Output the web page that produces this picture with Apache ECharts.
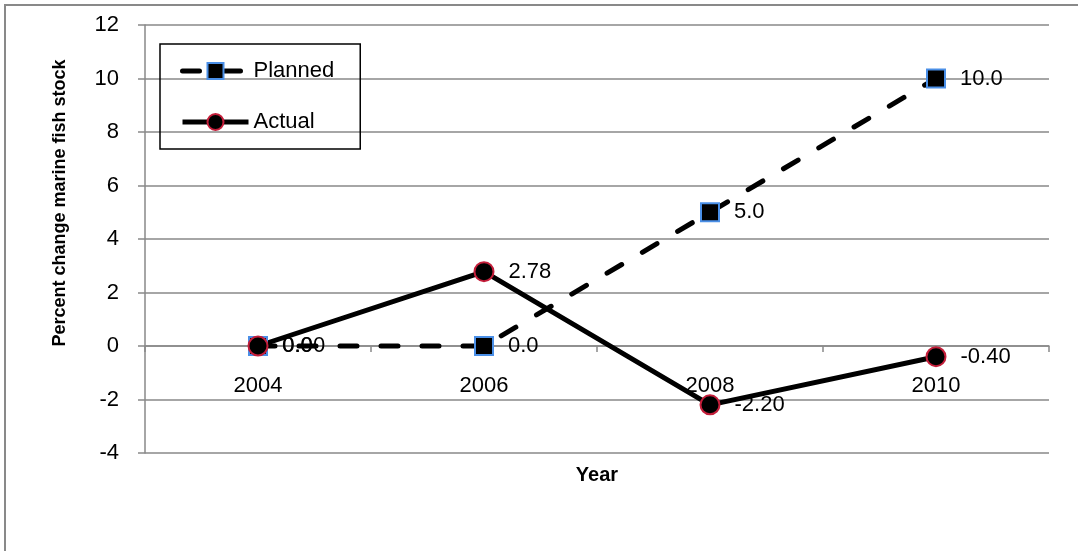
<!DOCTYPE html>
<html>
<head>
<meta charset="utf-8">
<title>Percent change marine fish stock</title>
<script src="https://cdn.jsdelivr.net/npm/echarts@6/dist/echarts.min.js"></script>
<style>
  html, body { margin: 0; padding: 0; background: #fff; }
  #chart { width: 1078px; height: 551px; }
</style>
</head>
<body>
<div id="chart"></div>
<script>
// data
var years = ['2004', '2006', '2008', '2010'];
var planned = [0, 0, 5, 10];
var actual = [0, 2.78, -2.2, -0.4];
var yTicks = { min: -4, max: 12, interval: 2 };

var FONT = 'Liberation Sans';
var GRID_GRAY = '#898989';

var myChart = echarts.init(document.getElementById('chart'));

myChart.setOption({
    animation: false,
    backgroundColor: '#fff',
    textStyle: { fontFamily: FONT },
    grid: { left: 145, right: 29, top: 25, bottom: 98 },
    legend: {
        left: 160,
        top: 44,
        orient: 'vertical',
        padding: [16, 26, 16, 20],
        itemGap: 29,
        itemWidth: 66,
        itemHeight: 20,
        borderColor: '#000',
        borderWidth: 1.5,
        lineStyle: { width: 5 },
        textStyle: { fontSize: 22, color: '#000', fontFamily: FONT },
        data: ['Planned', 'Actual']
    },
    xAxis: {
        type: 'category',
        data: years,
        boundaryGap: true,
        axisLine: { onZero: true, lineStyle: { color: GRID_GRAY, width: 1.5 } },
        axisTick: { show: true, length: 6, lineStyle: { color: GRID_GRAY, width: 1.5 } },
        // labels sit just under the zero line, as in the original
        axisLabel: { fontSize: 22, color: '#000', margin: -78, fontFamily: FONT },
        splitLine: { show: false }
    },
    yAxis: {
        type: 'value',
        min: yTicks.min,
        max: yTicks.max,
        interval: yTicks.interval,
        axisLine: { show: true, lineStyle: { color: GRID_GRAY, width: 1.5 } },
        axisTick: { show: true, length: 7, lineStyle: { color: GRID_GRAY, width: 1.5 } },
        axisLabel: { fontSize: 22, color: '#000', margin: 26, fontFamily: FONT },
        splitLine: { show: true, lineStyle: { color: GRID_GRAY, width: 1.5 } }
    },
    graphic: [
        {
            type: 'rect',
            shape: { x: 5, y: 5, width: 1200, height: 700 },
            style: { fill: 'none', stroke: GRID_GRAY, lineWidth: 2 },
            silent: true,
            z: -10
        },
        {
            type: 'text',
            x: 60, y: 203,
            rotation: Math.PI / 2,
            style: {
                text: 'Percent change marine fish stock',
                fontSize: 18, fontWeight: 'bold', fontFamily: FONT,
                fill: '#000', textAlign: 'center', textVerticalAlign: 'middle'
            }
        },
        {
            type: 'text',
            x: 597, y: 475,
            style: {
                text: 'Year',
                fontSize: 20, fontWeight: 'bold', fontFamily: FONT,
                fill: '#000', textAlign: 'center', textVerticalAlign: 'middle'
            }
        }
    ],
    series: [
        {
            name: 'Planned',
            type: 'line',
            data: planned,
            symbol: 'rect',
            symbolSize: 18,
            lineStyle: { color: '#000', width: 5, type: [17, 24], cap: 'round' },
            itemStyle: { color: '#000', borderColor: '#4a8fe7', borderWidth: 2 },
            label: {
                show: true, position: 'right', distance: 14,
                fontSize: 22, color: '#000', fontFamily: FONT,
                formatter: function (p) { return p.value.toFixed(1); }
            }
        },
        {
            name: 'Actual',
            type: 'line',
            data: actual,
            symbol: 'circle',
            symbolSize: 19,
            lineStyle: { color: '#000', width: 5 },
            itemStyle: { color: '#000', borderColor: '#c41e3a', borderWidth: 2 },
            label: {
                show: true, position: 'right', distance: 14,
                fontSize: 22, color: '#000', fontFamily: FONT,
                formatter: function (p) { return p.value.toFixed(2); }
            }
        }
    ]
});
</script>
</body>
</html>
